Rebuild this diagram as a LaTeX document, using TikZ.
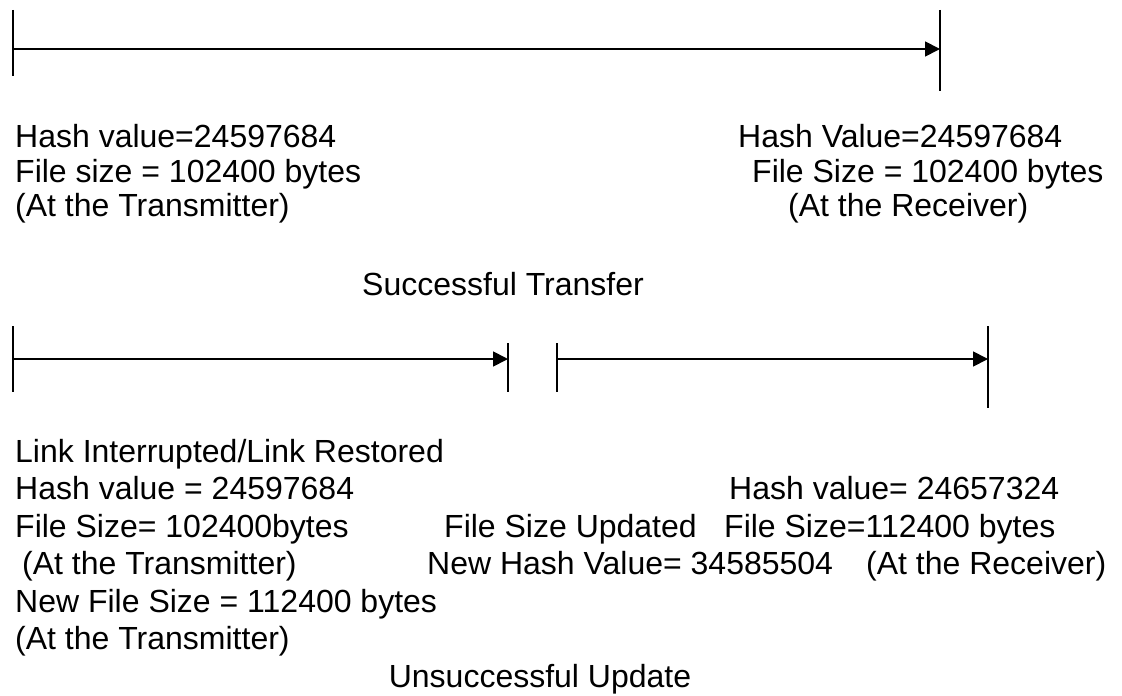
\documentclass[tikz,border=0pt]{standalone}
\usepackage{fontspec}
\setmainfont{Liberation Sans}
\usetikzlibrary{arrows.meta}

\begin{document}
\begin{tikzpicture}[x=1bp, y=-1bp,
  lbl/.style={anchor=base west, inner sep=0pt, font=\fontsize{32bp}{38bp}\selectfont},
  mid lbl/.style={lbl, anchor=base},
  tick/.style={line width=1.5bp},
  shaft/.style={line width=1.8bp, -{Triangle[length=15bp, width=15bp]}}]
\useasboundingbox (0,0) rectangle (1122,696);

% first transfer
\coordinate (sendA) at (13,49);
\coordinate (recvA) at (940,49);
\draw[tick] (13,10) -- (13,76);
\draw[tick] (940,10) -- (940,91);
\draw[shaft] (sendA) -- (recvA);

\node[lbl] (txHash) at (15,148) {Hash value=24597684};
\node[lbl] (txSize) at (15,183) {File size = 102400 bytes};
\node[lbl] (txSide) at (15,217) {(At the Transmitter)};
\node[lbl] (rxHash) at (738,148) {Hash Value=24597684};
\node[lbl] (rxSize) at (752,183) {File Size = 102400 bytes};
\node[lbl] (rxSide) at (788,217) {(At the Receiver)};
\node[lbl] (okTitle) at (362,295) {Successful Transfer};

% interrupted transfer
\coordinate (sendB) at (13,359);
\coordinate (cutB) at (508,359);
\coordinate (resumeB) at (557,359);
\coordinate (recvB) at (988,359);
\draw[tick] (13,326) -- (13,392);
\draw[tick] (508,343) -- (508,392);
\draw[tick] (557,343) -- (557,392);
\draw[tick] (988,326) -- (988,408);
\draw[shaft] (sendB) -- (cutB);
\draw[shaft] (resumeB) -- (recvB);

\node[lbl] (linkNote) at (15,462) {Link Interrupted/Link Restored};
\node[lbl] (txHashB) at (15,499.5) {Hash value = 24597684};
\node[lbl] (txSizeB) at (15,537) {File Size= 102400bytes};
\node[lbl] (txSideB) at (22,574.5) {(At the Transmitter)};
\node[lbl] (txNewSize) at (15,612) {New File Size = 112400 bytes};
\node[lbl] (txSideC) at (15,649.5) {(At the Transmitter)};
\node[lbl] (updNote) at (444,537) {File Size Updated};
\node[lbl] (updHash) at (427,574.5) {New Hash Value= 34585504};
\node[lbl] (rxHashB) at (729,499.5) {Hash value= 24657324};
\node[lbl] (rxSizeB) at (724,537) {File Size=112400 bytes};
\node[lbl] (rxSideB) at (866,574.5) {(At the Receiver)};
\node[mid lbl] (failTitle) at (540,687) {Unsuccessful Update};
\end{tikzpicture}
\end{document}
